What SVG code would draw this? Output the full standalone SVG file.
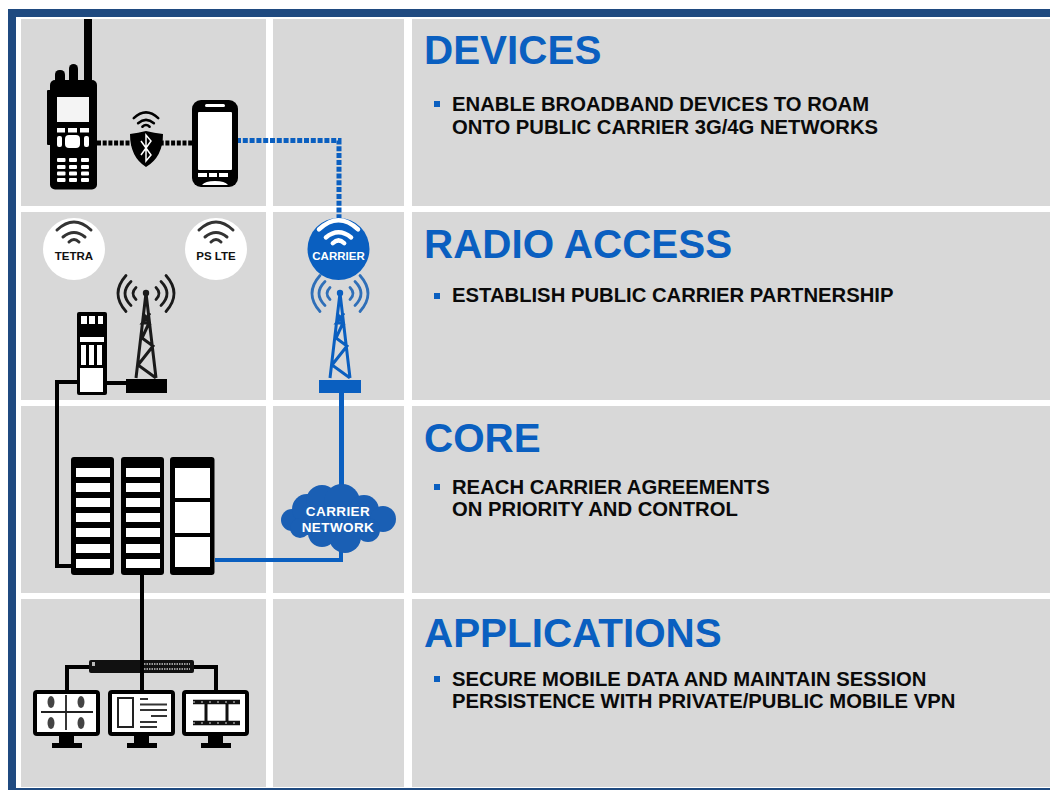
<svg xmlns="http://www.w3.org/2000/svg" width="1050" height="790" viewBox="0 0 1050 790">
<defs>
<style>
text{font-family:"Liberation Sans",Arial,sans-serif;font-weight:700}
.cell{fill:#d8d8d8}
.h{font-size:40.400px;fill:#0a5fc0}
.b{font-size:20.250px;fill:#0a0a0a}
.sq{fill:#0a5fc0}
.k{fill:#000}
.w{fill:#fff}
.wave{fill:none;stroke-linecap:round}
.lbl{font-size:11.500px;text-anchor:middle}
.blk{fill:none;stroke:#000;stroke-width:4}
.tw{fill:none;stroke-width:3}
</style>
<path id="wifi" class="wave" d="M-17 -4Q0 -20 17 -4M-11 3Q0 -6 11 3M-5 8Q0 3 5 8"/>
<path id="air" class="wave" stroke-width="2.800" d="M-10 -6Q-16 0 -10 6M10 -6Q16 0 10 6M-15 -12Q-27 0 -15 12M15 -12Q27 0 15 12M-20 -18Q-36 0 -20 18M20 -18Q36 0 20 18"/>
<g id="tower"><path class="tw" d="M0 0L-10 85M0 0L10 85M-3 20L3 30H-3.500L4 20M3 30L-4 45L7 53L-8 72L10 85"/><circle cx="0" cy="0" r="3.200" stroke="none"/></g>
<g id="mon"><rect x="0" y="0" width="63" height="42" rx="2" fill="#fff" stroke="#000" stroke-width="4"/><rect x="24" y="43" width="15" height="9" class="k"/><rect x="17" y="51" width="30" height="5" class="k"/></g>
<g id="rack1"><rect width="43" height="118" rx="3" class="k"/><rect x="5" y="11" width="34" height="9" class="w"/><rect x="5" y="26" width="34" height="9" class="w"/><rect x="5" y="41" width="34" height="9" class="w"/><rect x="5" y="56" width="34" height="9" class="w"/><rect x="5" y="71" width="34" height="9" class="w"/><rect x="5" y="87" width="34" height="9" class="w"/><rect x="5" y="102" width="34" height="9" class="w"/></g>
</defs>
<rect width="1050" height="790" fill="#fff"/>
<g id="frame" fill="#1f4a80"><rect x="8" y="9" width="1042" height="8"/><rect x="8" y="9" width="8" height="781"/><rect x="8" y="788" width="1042" height="2"/></g>
<g id="grid">
<rect class="cell" x="21" y="19" width="245" height="187"/><rect class="cell" x="273" y="19" width="131" height="187"/><rect class="cell" x="412" y="19" width="638" height="187"/>
<rect class="cell" x="21" y="212" width="245" height="188"/><rect class="cell" x="273" y="212" width="131" height="188"/><rect class="cell" x="412" y="212" width="638" height="188"/>
<rect class="cell" x="21" y="406" width="245" height="187"/><rect class="cell" x="273" y="406" width="131" height="187"/><rect class="cell" x="412" y="406" width="638" height="187"/>
<rect class="cell" x="21" y="599" width="245" height="188"/><rect class="cell" x="273" y="599" width="131" height="188"/><rect class="cell" x="412" y="599" width="638" height="188"/>
</g>
<g id="connectors">
<path d="M97 143H192" fill="none" stroke="#000" stroke-width="5" stroke-dasharray="4 1.700"/>
<path d="M236 140.500H339V218" fill="none" stroke="#0a5fc0" stroke-width="5" stroke-dasharray="5 1.800"/>
<path class="blk" d="M80 382H57V566H72M105 383H128"/>
<path d="M341.500 392V496" fill="none" stroke="#0a5fc0" stroke-width="5"/>
<path d="M215 560H341V550" fill="none" stroke="#0a5fc0" stroke-width="4"/>
<path class="blk" d="M142 574V690M142 667H67V692M142 667H216V692"/>
</g>
<g id="radio"><g class="k"><rect x="84" y="19" width="8" height="65"/><rect x="50" y="80" width="47" height="109.500" rx="5"/><rect x="47" y="90" width="6" height="55" rx="1"/><rect x="55" y="70" width="10" height="14" rx="4.500"/><rect x="69" y="64" width="9" height="20" rx="4.500"/></g><rect x="57" y="97" width="32" height="25" fill="#f4f4f4"/><rect x="57" y="128" width="8" height="4.500" class="w"/><rect x="68" y="128" width="9" height="4.500" class="w"/><rect x="80" y="128" width="9" height="4.500" class="w"/><rect x="65" y="135" width="15" height="13" rx="4" class="w"/><rect x="57" y="136" width="5" height="11" rx="2" class="w"/><rect x="84" y="136" width="5" height="11" rx="2" class="w"/><g class="w"><rect x="57" y="158" width="8.500" height="4" rx="1"/><rect x="69" y="158" width="8" height="4" rx="1"/><rect x="81" y="158" width="8" height="4" rx="1"/><rect x="57" y="165" width="8.500" height="4" rx="1"/><rect x="69" y="165" width="8" height="4" rx="1"/><rect x="81" y="165" width="8" height="4" rx="1"/><rect x="57" y="171.500" width="8.500" height="4" rx="1"/><rect x="69" y="171.500" width="8" height="4" rx="1"/><rect x="81" y="171.500" width="8" height="4" rx="1"/><rect x="57" y="178" width="8.500" height="4" rx="1"/><rect x="69" y="178" width="8" height="4" rx="1"/><rect x="81" y="178" width="8" height="4" rx="1"/></g></g>
<g id="bluetooth"><use href="#wifi" transform="translate(146 121) scale(.72)" stroke="#000" stroke-width="3.500"/><path class="k" d="M130 134Q138 133 146 131Q154 133 163 134Q163 157 146 167Q130 157 130 134Z"/><path d="M141 141L151 155L146 161V135L151 141L141 155" fill="none" stroke="#fff" stroke-width="1.500"/></g>
<g id="phone"><rect x="192" y="100" width="46" height="87" rx="9" class="k"/><rect x="198" y="112" width="34" height="58" rx="1" class="w"/><rect x="205" y="104" width="20" height="3" rx="1.500" class="w"/><rect x="198" y="173" width="9" height="4" class="w"/><rect x="209" y="173" width="8" height="4" class="w"/><rect x="219" y="173" width="9" height="4" class="w"/><path class="w" d="M202 185Q205 181 215 181Q225 181 228 185Z"/></g>
<g id="tetra"><circle cx="74" cy="249" r="31" class="w"/><use href="#wifi" transform="translate(74 234)" stroke="#333" stroke-width="3"/><text class="lbl" x="74" y="260" fill="#111">TETRA</text></g>
<g id="pslte"><circle cx="216" cy="249" r="31" class="w"/><use href="#wifi" transform="translate(216 234)" stroke="#333" stroke-width="3"/><text class="lbl" x="216" y="260" fill="#111">PS LTE</text></g>
<g id="carrier"><circle cx="338.500" cy="249" r="31" fill="#0a5fc0"/><use href="#wifi" transform="translate(338.500 234) scale(1.150)" stroke="#fff" stroke-width="3.800"/><text class="lbl" x="338.500" y="260" fill="#fff">CARRIER</text></g>
<g id="tower-black" stroke="#1a1a1a" fill="#1a1a1a"><use href="#tower" transform="translate(146 293)"/><use href="#air" transform="translate(146 293.500)"/><rect x="126" y="379" width="41" height="14" fill="#000" stroke="none"/></g>
<g id="tower-blue" stroke="#0a5fc0" fill="#0a5fc0"><use href="#tower" transform="translate(340 293)"/><use href="#air" transform="translate(340 293.500)" stroke="#2f6fb8"/><rect x="319" y="380" width="42" height="13" stroke="none"/></g>
<g id="base-station"><rect x="77" y="312" width="30" height="83" rx="2" class="k"/><rect x="81" y="316" width="6" height="8" class="w"/><rect x="89" y="316" width="6" height="8" class="w"/><rect x="98" y="316" width="5" height="8" class="w"/><rect x="80" y="337" width="24" height="5" class="w"/><rect x="81" y="345" width="5" height="20" class="w"/><rect x="89" y="345" width="5" height="20" class="w"/><rect x="97" y="345" width="5" height="20" class="w"/><rect x="80" y="368" width="23" height="24" class="w"/></g>
<g id="rack-a"><use href="#rack1" transform="translate(71 457)"/></g>
<g id="rack-b"><use href="#rack1" transform="translate(121 457)"/></g>
<g id="rack-c"><rect x="170" y="457" width="44.500" height="118" rx="3" class="k"/><rect x="175" y="468" width="35" height="30" class="w"/><rect x="175" y="502" width="35" height="31" class="w"/><rect x="175" y="537" width="35" height="30" class="w"/></g>
<g id="cloud"><g fill="#1a5fb4"><circle cx="292" cy="520" r="11"/><circle cx="307" cy="509" r="15"/><circle cx="322" cy="501" r="16"/><circle cx="342" cy="502" r="18"/><circle cx="364" cy="510" r="15"/><circle cx="383" cy="519" r="13"/><circle cx="368" cy="530" r="12"/><circle cx="345" cy="537" r="16"/><circle cx="322" cy="533" r="14"/><circle cx="300" cy="528" r="10"/><rect x="300" y="505" width="70" height="30"/></g><text x="338" y="516" text-anchor="middle" font-size="13.500" letter-spacing=".4" fill="#fff">CARRIER</text><text x="338" y="531.500" text-anchor="middle" font-size="13.500" letter-spacing=".4" fill="#fff">NETWORK</text></g>
<g id="switch"><rect x="89" y="660" width="105" height="13" rx="2" fill="#111"/><path d="M144 664H190M144 669H190" stroke="#999" stroke-width="2" stroke-dasharray="1.500 1"/><rect x="92" y="662" width="3" height="4" fill="#bbb"/><path d="M142 660V673" stroke="#000" stroke-width="4"/></g>
<g id="monitor-1"><use href="#mon" transform="translate(35 692)"/><path d="M66 695V730M41 712H93" stroke="#222" stroke-width="1.800"/><g fill="#444"><ellipse cx="51" cy="702" rx="3.500" ry="6"/><ellipse cx="81" cy="702" rx="3.500" ry="6"/><ellipse cx="51" cy="723" rx="3.500" ry="6"/><ellipse cx="81" cy="723" rx="3.500" ry="6"/></g></g>
<g id="monitor-2"><use href="#mon" transform="translate(110 692)"/><rect x="118" y="698" width="15" height="29" fill="none" stroke="#222" stroke-width="2"/><path d="M140 699H148M140 704.500H167M140 710H167M151 716H167M140 722H157M140 727H157" stroke="#333" stroke-width="2"/></g>
<g id="monitor-3"><use href="#mon" transform="translate(184 692)"/><path d="M193 702H240M193 723H240" stroke="#111" stroke-width="4.500"/><path d="M193 702H240M193 723H240" stroke="#999" stroke-width="1.500" stroke-dasharray="2 6"/><path d="M206 704V721M227 704V721" stroke="#111" stroke-width="3"/></g>
<g id="text">
<text class="h" x="424" y="64">DEVICES</text>
<rect class="sq" x="434" y="101" width="6" height="6"/>
<text class="b" x="452" y="111">ENABLE BROADBAND DEVICES TO ROAM</text>
<text class="b" x="452" y="133.500">ONTO PUBLIC CARRIER 3G/4G NETWORKS</text>
<text class="h" x="424" y="258">RADIO ACCESS</text>
<rect class="sq" x="434" y="293" width="6" height="6"/>
<text class="b" x="452" y="302">ESTABLISH PUBLIC CARRIER PARTNERSHIP</text>
<text class="h" x="424" y="452">CORE</text>
<rect class="sq" x="434" y="484" width="6" height="6"/>
<text class="b" x="452" y="494">REACH CARRIER AGREEMENTS</text>
<text class="b" x="452" y="516">ON PRIORITY AND CONTROL</text>
<text class="h" x="424" y="647">APPLICATIONS</text>
<rect class="sq" x="434" y="676" width="6" height="6"/>
<text class="b" x="452" y="686">SECURE MOBILE DATA AND MAINTAIN SESSION</text>
<text class="b" x="452" y="708">PERSISTENCE WITH PRIVATE/PUBLIC MOBILE VPN</text>
</g>
</svg>
